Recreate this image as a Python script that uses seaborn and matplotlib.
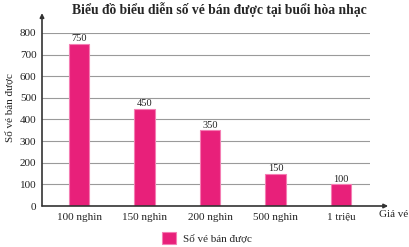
import matplotlib
matplotlib.use("Agg")
import matplotlib.pyplot as plt
import seaborn as sns
import pandas as pd

categories = ["100 nghìn", "150 nghìn", "200 nghìn", "500 nghìn", "1 triệu"]
values = [750, 450, 350, 150, 100]
yticks = [0, 100, 200, 300, 400, 500, 600, 700, 800]
title = "Biểu đồ biểu diễn số vé bán được tại buổi hòa nhạc"
ylabel = "Số vé bán được"
xlabel = "Giá vé"
series = "Số vé bán được"

sns.set_style("white")
plt.rcParams['font.family'] = ['Liberation Serif', 'DejaVu Serif']

df = pd.DataFrame({"cat": categories, "val": values})

fig = plt.figure(figsize=(4.09, 2.47), dpi=100)
ax = fig.add_axes([42/409, (247-206)/247, (370-42)/409, (206-33)/247])

bar_color = "#E8207A"
sns.barplot(data=df, x="cat", y="val", color=bar_color, saturation=1, width=0.31,
            edgecolor="#F47DB3", linewidth=0.8, label=series, ax=ax, zorder=3)

ax.set_xlim(-0.565, 4.443)
ax.set_ylim(0, 800)
ax.set_yticks(yticks)
ax.yaxis.grid(True, color="#9a9a9a", linewidth=0.8, zorder=0)
ax.set_axisbelow(True)
for s in ["top", "right", "left", "bottom"]:
    ax.spines[s].set_visible(False)
ax.tick_params(axis="both", length=0, labelsize=8, colors="#222222")
ax.tick_params(axis="x", pad=5)
ax.tick_params(axis="y", pad=4)

for c in ax.containers:
    ax.bar_label(c, fontsize=7.5, padding=0.5, color="#222222")

# axis arrows
ax.annotate("", xy=(4.72, 0), xytext=(-0.565, 0), xycoords="data",
            arrowprops=dict(arrowstyle="-|>", color="#333333", lw=1.2,
                            mutation_scale=6, shrinkA=0, shrinkB=0),
            annotation_clip=False)
ax.annotate("", xy=(-0.565, 892), xytext=(-0.565, 0), xycoords="data",
            arrowprops=dict(arrowstyle="-|>", color="#333333", lw=1.2,
                            mutation_scale=6, shrinkA=0, shrinkB=0),
            annotation_clip=False)

ax.set_xlabel("")
ax.set_ylabel(ylabel, fontsize=8, color="#222222")
ax.yaxis.set_label_coords(-0.082, 0.57)
fig.text(379/409, (247-214)/247, xlabel, fontsize=8, ha="left", va="center", color="#222222")

fig.suptitle(title, x=219/409, y=(247-10)/247, fontsize=9.8, fontweight="bold", va="center")

ax.legend(loc="center", bbox_to_anchor=(207/409, (247-238)/247), bbox_transform=fig.transFigure,
          frameon=False, fontsize=8, handlelength=1.3, handleheight=1.3, handletextpad=0.6)

fig.savefig("out.png", dpi=100)
